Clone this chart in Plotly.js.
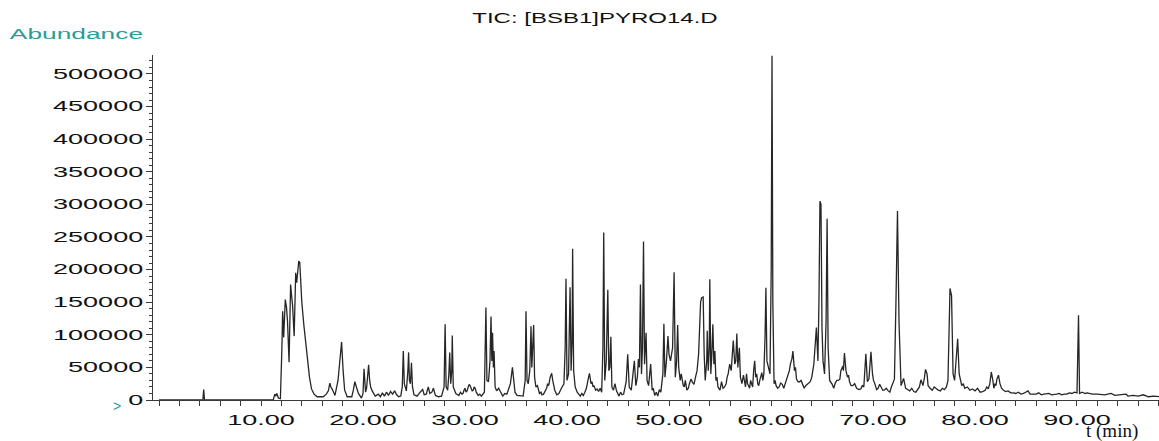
<!DOCTYPE html>
<html><head><meta charset="utf-8">
<script src="https://cdn.plot.ly/plotly-3.0.1.min.js"></script>
<style>html,body{margin:0;padding:0;background:#fff}</style>
</head><body><div id="chart" style="width:1159px;height:441px"></div>
<script>
// Retention time (min) of the main trace points
const retentionTime = [
  0, 4.30, 4.38, 4.46, 11.2, 11.35, 11.45, 11.55, 11.7, 11.9,
  12.05, 12.12, 12.22, 12.38, 12.5, 12.6, 12.75, 12.9, 13.0, 13.1,
  13.25, 13.4, 13.5, 13.6, 13.7, 13.8, 13.9, 14.0, 14.2, 14.5,
  14.75, 14.95, 15.2, 15.5, 16.1, 16.4, 16.6, 16.75, 16.85, 17.0,
  17.25, 17.55, 17.75, 17.9, 18.05, 18.2, 18.45, 18.9, 19.05, 19.2,
  19.35, 19.55, 19.85, 20.0, 20.1, 20.25, 20.35, 20.45, 20.55, 20.65,
  20.75, 20.9, 21.2, 21.5, 21.7, 21.9, 22.1, 22.3, 22.5, 22.7,
  22.9, 23.1, 23.3, 23.5, 23.7, 23.85, 23.95, 24.05, 24.25, 24.4,
  24.47, 24.55, 24.65, 24.75, 24.85, 25.0, 25.3, 25.6, 25.85, 26.0,
  26.2, 26.4, 26.55, 26.75, 26.9, 27.1, 27.4, 27.7, 27.95, 28.05,
  28.15, 28.3, 28.42, 28.5, 28.6, 28.7, 28.75, 28.85, 29.1, 29.4,
  29.7, 29.9, 30.1, 30.3, 30.5, 30.7, 30.9, 31.1, 31.3, 31.6,
  31.9, 32.05, 32.15, 32.3, 32.45, 32.55, 32.63, 32.7, 32.78, 32.85,
  32.95, 33.1, 33.3, 33.5, 33.7, 33.9, 34.1, 34.3, 34.45, 34.65,
  34.75, 34.9, 35.1, 35.4, 35.7, 35.9, 35.98, 36.08, 36.2, 36.35,
  36.47, 36.55, 36.62, 36.73, 36.82, 36.95, 37.1, 37.3, 37.55, 37.8,
  38.0, 38.2, 38.35, 38.5, 38.6, 38.8, 39.0, 39.2, 39.45, 39.7,
  39.82, 39.9, 40.0, 40.15, 40.3, 40.4, 40.5, 40.55, 40.65, 40.8,
  41.0, 41.3, 41.6, 41.9, 42.05, 42.2, 42.35, 42.55, 42.8, 43.1,
  43.4, 43.52, 43.6, 43.7, 43.85, 44.0, 44.1, 44.2, 44.3, 44.4,
  44.55, 44.7, 44.85, 45.1, 45.4, 45.7, 45.95, 46.1, 46.3, 46.45,
  46.6, 46.75, 46.9, 47.0, 47.1, 47.2, 47.3, 47.4, 47.5, 47.6,
  47.75, 47.85, 48.0, 48.2, 48.35, 48.6, 48.9, 49.2, 49.4, 49.5,
  49.6, 49.75, 49.9, 50.0, 50.15, 50.35, 50.5, 50.62, 50.75, 50.85,
  50.95, 51.1, 51.3, 51.5, 51.75, 52.0, 52.3, 52.6, 52.9, 53.1,
  53.2, 53.35, 53.45, 53.55, 53.7, 53.75, 53.85, 53.95, 54.0, 54.1,
  54.2, 54.3, 54.4, 54.5, 54.6, 54.8, 55.0, 55.3, 55.6, 55.8,
  55.95, 56.1, 56.3, 56.45, 56.55, 56.65, 56.75, 56.9, 57.0, 57.15,
  57.3, 57.5, 57.7, 57.9, 58.1, 58.3, 58.4, 58.5, 58.7, 58.9,
  59.1, 59.3, 59.42, 59.5, 59.6, 59.75, 59.9, 60.02, 60.1, 60.18,
  60.3, 60.5, 60.8, 61.1, 61.4, 61.7, 61.9, 62.05, 62.15, 62.3,
  62.5, 62.8, 63.1, 63.4, 63.7, 64.0, 64.2, 64.45, 64.6, 64.7,
  64.8, 64.9, 65.0, 65.1, 65.25, 65.4, 65.5, 65.6, 65.75, 66.0,
  66.3, 66.6, 66.85, 67.05, 67.2, 67.35, 67.5, 67.7, 68.0, 68.4,
  68.8, 69.1, 69.3, 69.45, 69.6, 69.8, 69.95, 70.2, 70.5, 70.8,
  71.1, 71.5, 71.8, 72.1, 72.25, 72.4, 72.55, 72.75, 73.0, 73.2,
  73.6, 74.0, 74.4, 74.7, 74.9, 75.15, 75.4, 75.8, 76.2, 76.6,
  77.0, 77.35, 77.55, 77.7, 77.85, 78.0, 78.15, 78.3, 78.45, 78.7,
  79.0, 79.5, 80.0, 80.5, 81.0, 81.3, 81.6, 81.85, 82.05, 82.3,
  82.6, 83.0, 83.5, 84.0, 84.5, 85.0, 85.4, 86.0, 86.5, 87.0,
  87.5, 88.0, 88.5, 89.0, 89.5, 90.0, 90.15, 90.25, 90.8, 91.5,
  92.5, 93.0, 93.7, 94.5, 95.0, 96.0, 97.0, 98.2
];
// Total ion current abundance of the main trace points
const abundance = [
  0, 0, 16000, 0, 0, 9000, 6000, 10000, 3000, 2000,
  80000, 136000, 96000, 154000, 142000, 120000, 58000, 177000, 160000, 144000,
  98000, 195000, 180000, 205000, 213000, 211000, 175000, 150000, 115000, 68000,
  35000, 17000, 9000, 5000, 5000, 9000, 14000, 26000, 20000, 16000,
  7000, 30000, 70000, 89000, 45000, 15000, 5000, 5000, 15000, 28000,
  20000, 10000, 3000, 10000, 48000, 12000, 18000, 40000, 54000, 30000,
  20000, 14000, 6000, 9000, 5000, 11000, 6000, 12000, 7000, 13000,
  9000, 14000, 8000, 5000, 6000, 20000, 75000, 25000, 14000, 45000,
  73000, 30000, 25000, 57000, 20000, 8000, 6000, 12000, 16000, 8000,
  9000, 20000, 10000, 12000, 18000, 7000, 5000, 6000, 20000, 116000,
  20000, 15000, 40000, 73000, 25000, 45000, 99000, 20000, 10000, 7000,
  9000, 15000, 12000, 19000, 22000, 14000, 20000, 12000, 7000, 6000,
  12000, 142000, 30000, 28000, 60000, 128000, 60000, 103000, 50000, 75000,
  20000, 14000, 18000, 12000, 6000, 10000, 9000, 18000, 25000, 50000,
  30000, 12000, 7000, 6000, 6000, 30000, 136000, 30000, 25000, 45000,
  113000, 50000, 75000, 115000, 35000, 20000, 22000, 10000, 8000, 12000,
  18000, 22000, 35000, 41000, 30000, 15000, 8000, 10000, 18000, 25000,
  80000, 186000, 30000, 40000, 173000, 45000, 90000, 232000, 45000, 20000,
  12000, 6000, 7000, 18000, 30000, 41000, 25000, 20000, 15000, 13000,
  12000, 80000, 257000, 30000, 60000, 169000, 45000, 50000, 97000, 20000,
  15000, 25000, 14000, 6000, 8000, 20000, 70000, 20000, 15000, 40000,
  60000, 22000, 35000, 63000, 50000, 177000, 40000, 80000, 243000, 55000,
  103000, 30000, 22000, 55000, 15000, 7000, 6000, 12000, 40000, 117000,
  35000, 60000, 98000, 70000, 60000, 80000, 196000, 35000, 60000, 115000,
  50000, 30000, 28000, 20000, 15000, 25000, 27000, 35000, 70000, 150000,
  157000, 158000, 70000, 30000, 60000, 106000, 45000, 80000, 185000, 40000,
  70000, 116000, 55000, 75000, 30000, 20000, 15000, 18000, 25000, 40000,
  55000, 45000, 91000, 55000, 60000, 102000, 50000, 80000, 35000, 25000,
  38000, 20000, 25000, 18000, 25000, 45000, 60000, 35000, 25000, 30000,
  42000, 40000, 100000, 172000, 60000, 50000, 40000, 200000, 528000, 150000,
  25000, 22000, 20000, 24000, 26000, 40000, 55000, 63000, 75000, 45000,
  32000, 28000, 24000, 22000, 26000, 35000, 55000, 111000, 60000, 150000,
  305000, 300000, 110000, 60000, 40000, 120000, 278000, 80000, 30000, 24000,
  26000, 30000, 45000, 52000, 72000, 45000, 35000, 28000, 22000, 18000,
  17000, 20000, 71000, 28000, 32000, 74000, 40000, 24000, 18000, 20000,
  15000, 14000, 20000, 32000, 150000, 290000, 120000, 22000, 33000, 18000,
  14000, 13000, 16000, 31000, 22000, 47000, 22000, 15000, 17000, 14000,
  16000, 30000, 171000, 160000, 40000, 30000, 60000, 94000, 40000, 22000,
  18000, 15000, 14000, 12000, 15000, 17000, 43000, 18000, 22000, 38000,
  18000, 13000, 11000, 10000, 9000, 12000, 9000, 9000, 8000, 9000,
  8000, 9000, 8000, 9000, 10000, 11000, 130000, 10000, 10000, 9000,
  8000, 9000, 7000, 8000, 6000, 6000, 5000, 5000
];
// Small baseline wiggles read between the main points (time, abundance)
const minorPeakTime = [
  29.55, 29.8, 30.0, 30.2, 30.4, 30.6, 30.8, 31.0, 31.45, 37.2,
  37.45, 37.7, 38.1, 41.15, 41.45, 41.75, 42.45, 42.65, 42.95, 43.25,
  45.25, 45.55, 45.8, 48.45, 48.75, 49.05, 51.2, 51.4, 51.6, 51.9,
  52.15, 52.45, 52.75, 54.7, 54.9, 55.15, 55.45, 55.7, 57.4, 57.6,
  57.8, 58.0, 58.2, 58.6, 58.8, 59.0, 59.2, 60.4, 60.65, 60.95,
  61.25, 61.55, 61.8, 62.4, 62.65, 62.95, 63.25, 63.55, 63.85, 64.1,
  66.15, 66.45, 66.75, 66.95, 67.1, 67.6, 67.85, 68.2, 68.6, 68.95,
  70.05, 70.35, 70.65, 70.95, 71.3, 71.65, 71.95, 73.4, 73.8, 74.2,
  74.55, 75.05, 75.3, 75.6, 76.0, 76.4, 76.8, 77.2, 78.6, 78.85,
  79.25, 79.75, 80.25, 80.75, 81.15, 81.45, 81.75, 81.95, 82.15, 82.45,
  82.8, 83.25, 83.75, 84.25, 84.75, 85.2, 85.7, 86.25, 86.75, 87.25,
  87.75, 88.25, 88.75, 89.25, 89.75, 90.5, 91.0, 92.0, 92.75, 93.35,
  94.1, 94.8, 95.5, 96.5, 97.5
];
const minorPeakAbundance = [
  12000, 10000, 18000, 14000, 24000, 18000, 15000, 18000, 9000, 15000,
  12000, 9000, 25000, 9000, 10000, 12000, 28000, 22000, 17000, 18000,
  12000, 9000, 28000, 18000, 12000, 16000, 40000, 22000, 30000, 18000,
  32000, 24000, 45000, 35000, 18000, 28000, 20000, 35000, 30000, 40000,
  22000, 30000, 20000, 40000, 22000, 38000, 30000, 30000, 18000, 26000,
  18000, 30000, 45000, 50000, 28000, 30000, 18000, 24000, 28000, 45000,
  18000, 30000, 32000, 50000, 45000, 38000, 22000, 25000, 16000, 22000,
  30000, 16000, 24000, 15000, 18000, 12000, 25000, 16000, 18000, 12000,
  20000, 35000, 40000, 18000, 20000, 15000, 18000, 20000, 30000, 25000,
  20000, 17000, 18000, 13000, 20000, 25000, 30000, 25000, 32000, 25000,
  15000, 14000, 11000, 12000, 10000, 14000, 9000, 11000, 9000, 10000,
  8000, 10000, 9000, 11000, 12000, 12000, 11000, 9000, 8000, 10000,
  8000, 9000, 7000, 8000, 6000
];
const xTickVals = [10, 20, 30, 40, 50, 60, 70, 80, 90];
const xTickText = ['10.00', '20.00', '30.00', '40.00', '50.00', '60.00', '70.00', '80.00', '90.00'];
const yTickVals = [0, 50000, 100000, 150000, 200000, 250000, 300000, 350000, 400000, 450000, 500000];
const yTickText = ['0', '50000', '100000', '150000', '200000', '250000', '300000', '350000', '400000', '450000', '500000'];

// merge both point sets in time order
const pts = retentionTime.map((t, i) => [t, abundance[i]])
  .concat(minorPeakTime.map((t, i) => [t, minorPeakAbundance[i]]))
  .sort((a, b) => a[0] - b[0]);

const W = 1159, H = 441, L = 153, R = 0, T = 55, B = 41;
const pw = W - L - R, ph = H - T - B;
const px = x => (x - L) / pw;
const py = y => (H - B - y) / ph;

const axisColor = '#3a3a3a';
const tickFont = {family: 'Liberation Sans, Arial, sans-serif', size: 14, color: '#111'};

const trace = {
  x: pts.map(p => p[0]), y: pts.map(p => p[1]), type: 'scatter', mode: 'lines',
  line: {color: '#262626', width: 1.3}, hoverinfo: 'skip'
};

const layout = {
  width: W, height: H,
  margin: {l: L, r: R, t: T, b: B, pad: 0},
  paper_bgcolor: '#fff', plot_bgcolor: '#fff',
  showlegend: false,
  title: {text: 'TIC: [BSB1]PYRO14.D', x: 595 / W, xanchor: 'center', xref: 'container',
          y: 1 - 18 / H, yanchor: 'middle', yref: 'container',
          font: {family: 'Liberation Sans, Arial, sans-serif', size: 15, color: '#111'}},
  xaxis: {
    range: [-0.59, 98.04], showgrid: false, zeroline: false,
    showline: true, linecolor: axisColor, linewidth: 1,
    tickmode: 'array', tickvals: xTickVals, ticktext: xTickText,
    ticks: 'outside', ticklen: 5, tickcolor: axisColor, tickwidth: 1,
    minor: {tickmode: 'linear', tick0: 0, dtick: 2, ticks: 'outside', ticklen: 5, tickcolor: axisColor, tickwidth: 1, showgrid: false},
    tickfont: tickFont, ticklabelstandoff: 2, fixedrange: true
  },
  yaxis: {
    range: [0, 529100], showgrid: false, zeroline: false,
    showline: true, linecolor: axisColor, linewidth: 1,
    tickmode: 'array', tickvals: yTickVals, ticktext: yTickText,
    ticks: 'outside', ticklen: 6, tickcolor: axisColor, tickwidth: 1,
    minor: {tickmode: 'linear', tick0: 0, dtick: 10000, ticks: 'outside', ticklen: 3, tickcolor: axisColor, tickwidth: 1, showgrid: false},
    tickfont: tickFont, ticklabelstandoff: 0, fixedrange: true
  },
  annotations: [
    {text: 'Abundance', xref: 'paper', yref: 'paper', x: px(76.5), y: py(34),
     xanchor: 'center', yanchor: 'middle', showarrow: false,
     font: {family: 'Liberation Sans, Arial, sans-serif', size: 14, color: '#2a9d99'}},
    {text: '>', xref: 'paper', yref: 'paper', x: px(117), y: py(406),
     xanchor: 'center', yanchor: 'middle', showarrow: false,
     font: {family: 'Liberation Sans, Arial, sans-serif', size: 14, color: '#2a9d99'}},
    {text: 't (min)', xref: 'paper', yref: 'paper', x: px(1112), y: py(431),
     xanchor: 'center', yanchor: 'middle', showarrow: false,
     font: {family: 'Liberation Serif, Times New Roman, serif', size: 19, color: '#111'}}
  ]
};

function stretch(sel, k) {
  document.querySelectorAll(sel).forEach(el => {
    const w = el.getComputedTextLength();
    if (w > 0) {
      el.setAttribute('textLength', (w * k).toFixed(1));
      el.setAttribute('lengthAdjust', 'spacingAndGlyphs');
    }
  });
}

Plotly.newPlot('chart', [trace], layout, {displayModeBar: false, staticPlot: true}).then(() => {
  stretch('.xtick text', 1.93);
  stretch('.ytick text', 1.93);
  stretch('.gtitle', 1.6);
  document.querySelectorAll('.annotation-text').forEach(el => {
    if (el.textContent === 'Abundance') {
      const w = el.getComputedTextLength();
      el.setAttribute('textLength', (w * 1.88).toFixed(1));
      el.setAttribute('lengthAdjust', 'spacingAndGlyphs');
    }
  });
});
</script></body></html>
